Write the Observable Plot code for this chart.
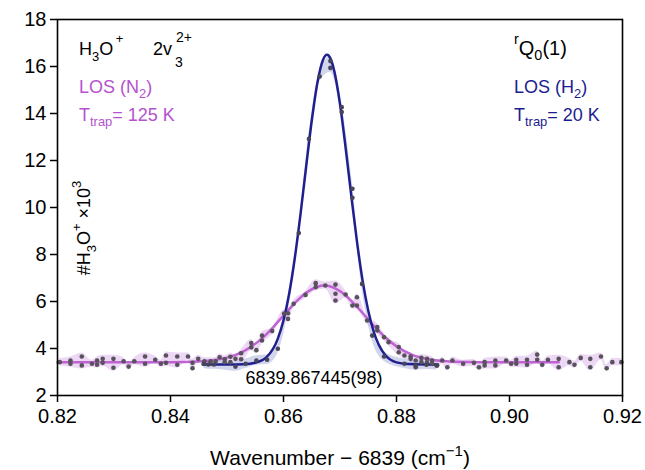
<!DOCTYPE html>
<html><head><meta charset="utf-8">
<script src="https://cdn.jsdelivr.net/npm/d3@7"></script>
<script src="https://cdn.jsdelivr.net/npm/@observablehq/plot@0.6"></script>
<style>body{margin:0;background:#fff} svg{font-family:"Liberation Sans",Arial,sans-serif}</style>
</head><body><div id="chart"></div>
<script>
// LOS (N2) measured points
const n2X = [0.8204,0.8223,0.8223,0.8243,0.8243,0.8261,0.8270,0.8270,0.8280,0.8280,0.8299,0.8299,0.8317,0.8326,0.8336,0.8355,0.8355,0.8373,0.8383,0.8392,0.8392,0.8412,0.8412,0.8431,0.8439,0.8439,0.8449,
 0.8460,0.8471,0.8480,0.8487,0.8496,0.8496,0.8506,0.8506,0.8515,0.8525,0.8525,0.8543,0.8543,0.8552,0.8562,0.8562,0.8580,0.8601,0.8608,0.8608,0.8618,0.8639,0.8657,0.8657,0.8674,
 0.8692,0.8692,0.8692,0.8710,0.8722,0.8730,0.8730,0.8748,0.8766,0.8766,0.8778,0.8786,0.8804,0.8804,0.8814,0.8825,0.8825,0.8834,0.8834,0.8844,0.8844,0.8854,0.8854,0.8863,0.8863,0.8872,0.8881,0.8890,0.8899,
 0.8918,0.8937,0.8946,0.8956,0.8956,0.8975,0.8975,0.8994,0.9003,0.9012,0.9012,0.9031,0.9031,0.9049,0.9049,0.9058,0.9068,0.9087,0.9087,0.9106,0.9115,0.9126,0.9143,0.9143,0.9162,0.9172,0.9182,0.9198];
const n2Y = [3.42,3.49,3.35,3.66,3.28,3.35,3.49,3.31,3.56,3.39,3.56,3.18,3.46,3.23,3.46,3.66,3.35,3.52,3.35,3.70,3.39,3.66,3.31,3.66,3.39,3.16,3.56,
 3.46,3.46,3.46,3.63,3.54,3.42,3.65,3.42,3.56,3.80,3.54,4.23,4.05,3.93,4.55,4.34,4.74,5.49,5.50,5.26,5.90,6.28,6.78,6.61,6.68,
 6.72,6.33,6.04,6.30,5.83,6.18,5.83,5.19,4.91,4.77,4.48,4.27,4.06,3.84,3.70,3.66,3.56,3.49,3.20,3.60,3.42,3.56,3.40,3.49,3.35,3.28,3.49,3.20,3.49,
 3.35,3.39,3.20,3.42,3.28,3.49,3.28,3.49,3.35,3.52,3.35,3.52,3.31,3.74,3.52,3.31,3.52,3.56,3.20,3.42,3.31,3.60,3.56,3.20,3.66,3.16,3.42,3.42];
// LOS (H2) measured points
const h2X = [0.8459,0.8467,0.8477,0.8515,0.8533,0.8552,0.8571,0.8590,0.8627,0.8645,0.8664,0.8683,0.8683,0.8703,0.8703,0.8722,0.8722,0.8739,0.8757,0.8778,0.8814,0.8834,0.8853,0.8871];
const h2Y = [3.35,3.32,3.32,3.23,3.35,3.49,3.52,3.99,8.91,12.92,15.57,16.23,15.94,14.27,14.06,10.80,10.41,6.75,4.55,3.66,3.35,3.28,3.31,3.28];
// Fitted profiles
const n2FitX = [0.82,0.83,0.84,0.845,0.85,0.853,0.856,0.858,0.860,0.862,0.864,0.866,0.8672,0.868,0.870,0.872,0.874,0.876,0.878,0.880,0.883,0.886,0.890,0.895,0.9087];
const n2FitY = [3.42,3.42,3.42,3.45,3.61,3.89,4.39,4.86,5.40,5.93,6.37,6.63,6.68,6.66,6.44,6.03,5.51,4.96,4.48,4.09,3.71,3.53,3.44,3.42,3.42];
const h2FitX = [0.8457,0.850,0.853,0.855,0.857,0.859,0.860,0.861,0.862,0.863,0.864,0.865,0.866,0.867,0.8677,0.868,0.869,0.870,0.871,0.872,0.873,0.874,0.875,0.876,0.878,0.880,0.882,0.885,0.8873];
const h2FitY = [3.32,3.32,3.33,3.39,3.63,4.42,5.20,6.33,7.85,9.70,11.72,13.69,15.31,16.29,16.50,16.46,15.79,14.40,12.53,10.50,8.56,6.89,5.61,4.69,3.72,3.41,3.34,3.32,3.32];
const xTicks = [0.82,0.84,0.86,0.88,0.90,0.92];
const yTicks = [2,4,6,8,10,12,14,16,18];

const zip = (xs, ys) => xs.map((x, i) => ({x, y: ys[i]}));
const n2Pts = zip(n2X, n2Y), h2Pts = zip(h2X, h2Y);
const n2Fit = zip(n2FitX, n2FitY), h2Fit = zip(h2FitX, h2FitY);
function band(pts, pad) {
  return d3.groups(pts, d => d.x).map(([x, g]) => ({x, lo: d3.min(g, d => d.y) - pad, hi: d3.max(g, d => d.y) + pad})).sort((a, b) => a.x - b.x);
}
const n2Band = band(n2Pts, 0.15), h2Band = band(h2Pts, 0.2);

const plot = Plot.plot({
  width: 645, height: 470,
  marginLeft: 57, marginRight: 23, marginTop: 19, marginBottom: 75,
  x: {domain: [0.82, 0.92]},
  y: {domain: [2, 18]},
  style: {fontFamily: "Liberation Sans, Arial, sans-serif", fontSize: "20px", color: "black", background: "white"},
  marks: [
    Plot.areaY(n2Band, {x: "x", y1: "lo", y2: "hi", fill: "#e4c6f0", fillOpacity: 0.7, curve: "monotone-x"}),
    Plot.areaY(h2Band, {x: "x", y1: "lo", y2: "hi", fill: "#b4badf", fillOpacity: 0.6, curve: "monotone-x"}),
    Plot.line(n2Fit, {x: "x", y: "y", stroke: "#c062d4", strokeWidth: 2.5, curve: "monotone-x"}),
    Plot.line(h2Fit, {x: "x", y: "y", stroke: "#1f1f8f", strokeWidth: 2.5, curve: "monotone-x"}),
    Plot.dot(n2Pts, {x: "x", y: "y", r: 2.3, fill: "#57525c"}),
    Plot.dot(h2Pts, {x: "x", y: "y", r: 2.3, fill: "#48445a"}),
    Plot.frame({stroke: "black", strokeWidth: 1.6}),
    Plot.axisX({ticks: xTicks, tickFormat: d3.format(".2f"), tickSize: 7, tickPadding: 6, strokeWidth: 1.5, label: null, fontSize: 20}),
    Plot.axisY({ticks: yTicks, tickFormat: d3.format("d"), tickSize: 7, tickPadding: 4, strokeWidth: 1.5, label: null, fontSize: 20})
  ]
});
document.getElementById("chart").appendChild(plot);

const svg = d3.select(plot);
// segments: [text, shift(px up), scale]
function rich(x, y, segs, opts = {}) {
  const t = svg.append("text").attr("x", x).attr("y", y)
    .attr("font-size", opts.size || 18).attr("fill", opts.fill || "black")
    .attr("text-anchor", opts.anchor || "start")
    .attr("font-family", "Liberation Sans, Arial, sans-serif");
  if (opts.rotate) t.attr("transform", `rotate(-90 ${x} ${y})`);
  let prev = 0;
  for (const [s, shift = 0, scale = 1] of segs) {
    const ts = t.append("tspan").text(s).attr("dy", prev - shift);
    if (scale !== 1) ts.attr("font-size", (opts.size || 18) * scale);
    prev = shift;
  }
  return t;
}
const pink = "#b552cf", navy = "#1c1c90";
// top-left
rich(79, 55, [["H"], ["3", -6, 0.72], ["O"], ["\u2009+", 12, 0.72]], {size: 18});
rich(153, 55, [["2v"]], {size: 18});
rich(175, 67, [["3"]], {size: 14});
rich(176, 42, [["2+"]], {size: 14});
rich(79, 93, [["LOS (N"], ["2", -5, 0.72], [")"]], {size: 18, fill: pink});
rich(79, 121, [["T"], ["trap", -5, 0.72], ["= 125 K"]], {size: 18, fill: pink});
// top-right
rich(514, 55, [["r", 11, 0.72], ["Q"], ["0", -5, 0.72], ["(1)"]], {size: 20});
rich(514, 93, [["LOS (H"], ["2", -5, 0.72], [")"]], {size: 18, fill: navy});
rich(514, 121, [["T"], ["trap", -5, 0.72], ["= 20 K"]], {size: 18, fill: navy});
// center value
rich(314, 384, [["6839.867445(98)"]], {size: 18, anchor: "middle"});
// y label
rich(90, 228, [["#H"], ["3", -6, 0.72], ["O"], ["+", 9, 0.72], [" \u00D710"], ["3", 9, 0.72]], {size: 18, rotate: true, anchor: "middle"});
// x label
rich(340, 465, [["Wavenumber \u2212 6839 (cm"], ["\u22121", 9, 0.72], [")"]], {size: 21, anchor: "middle"});
</script></body></html>
